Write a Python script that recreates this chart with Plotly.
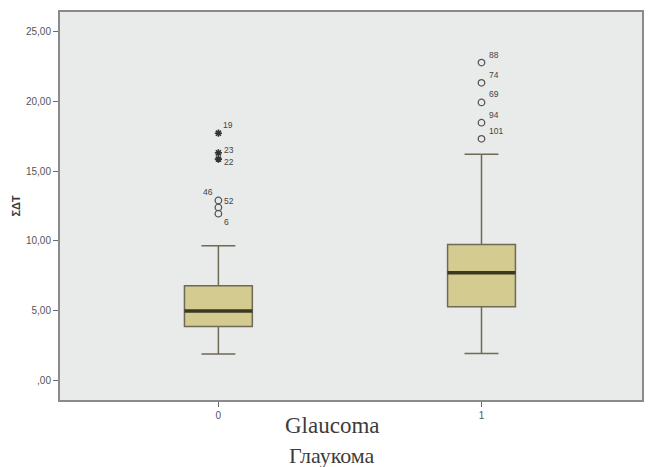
import plotly.graph_objects as go

# Groups and five-number summaries of ΣΔT
groups = [0, 1]
group_labels = ["0", "1"]
q1 = [3.90, 5.31]
median = [5.00, 7.74]
q3 = [6.80, 9.75]
lower_whisker = [1.93, 1.97]
upper_whisker = [9.66, 16.19]

# Outliers (circles) and extremes (asterisks) with case numbers
out_group = [0, 0, 0, 1, 1, 1, 1, 1]
out_value = [12.90, 12.40, 11.95, 22.75, 21.30, 19.90, 18.45, 17.30]
out_case = ["46", "52", "6", "88", "74", "69", "94", "101"]
ext_group = [0, 0, 0]
ext_value = [17.70, 16.30, 15.85]
ext_case = ["19", "23", "22"]

y_ticks = [0, 5, 10, 15, 20, 25]
y_tick_text = [",00", "5,00", "10,00", "15,00", "20,00", "25,00"]

BOX_W = 0.258
FILL = "#d3cb8f"
EDGE = "#6e6a55"
MED = "#3a3820"

fig = go.Figure()
for g, a, m, b, lo, hi in zip(groups, q1, median, q3, lower_whisker, upper_whisker):
    fig.add_trace(go.Box(
        x=[g], q1=[a], median=[m], q3=[b], lowerfence=[lo], upperfence=[hi],
        boxpoints=False, width=BOX_W, whiskerwidth=0.5,
        fillcolor=FILL, line=dict(color=EDGE, width=1.5),
        showlegend=False, hoverinfo="skip",
    ))

fig.add_trace(go.Scatter(
    x=out_group, y=out_value, mode="markers",
    marker=dict(symbol="circle-open", size=6.5, color="#555555", line=dict(width=1.3)),
    showlegend=False, hoverinfo="skip",
))
fig.add_trace(go.Scatter(
    x=ext_group, y=ext_value, mode="markers",
    marker=dict(symbol="asterisk-open", size=6, color="#333333", line=dict(width=1.6)),
    showlegend=False, hoverinfo="skip",
))

# Thick median bars
for g, m in zip(groups, median):
    fig.add_shape(type="line", x0=g - BOX_W / 2, x1=g + BOX_W / 2, y0=m, y1=m,
                  line=dict(color=MED, width=3.5), layer="above")

# Case-number labels beside each point
label_shift = {"46": (-10, 8), "52": (11, 6), "6": (8, -8), "19": (10, 8),
               "23": (11, 3), "22": (11, -3), "101": (14, 8)}
for g, v, c in list(zip(out_group, out_value, out_case)) + list(zip(ext_group, ext_value, ext_case)):
    dx, dy = label_shift.get(c, (12, 8))
    fig.add_annotation(x=g, y=v, text=c, showarrow=False, xshift=dx, yshift=dy,
                       font=dict(family="Liberation Sans", size=8.5, color="#444444"))

# Axis titles
fig.add_annotation(xref="paper", yref="paper", x=-0.09, y=0.5, text="<b>ΣΔT</b>",
                   textangle=-90, showarrow=False,
                   font=dict(family="Liberation Sans", size=11, color="#3a3a3a"))
fig.add_annotation(xref="paper", yref="paper", x=0.468, y=-0.067, yanchor="middle",
                   text="Glaucoma", showarrow=False,
                   font=dict(family="Liberation Serif", size=23, color="#3c3c3c"))
fig.add_annotation(xref="paper", yref="paper", x=0.468, y=-0.144, yanchor="middle",
                   text="Глаукома", showarrow=False,
                   font=dict(family="Liberation Serif", size=22, color="#3c3c3c"))

fig.update_layout(
    width=650, height=467,
    margin=dict(l=60, r=6, t=12, b=67),
    paper_bgcolor="white", plot_bgcolor="#e8ebe9",
    showlegend=False,
)
fig.update_xaxes(
    range=[-0.602, 1.61], tickvals=groups, ticktext=group_labels,
    showgrid=False, zeroline=False, showline=True, mirror=True,
    linecolor="#8a8a8a", linewidth=2, ticks="outside", ticklen=5,
    tickcolor="#6a6a6a", tickfont=dict(family="Liberation Sans", size=10, color="#555555"),
)
fig.update_yaxes(
    range=[-1.36, 26.36], tickvals=y_ticks, ticktext=y_tick_text,
    showgrid=False, zeroline=False, showline=True, mirror=True,
    linecolor="#8a8a8a", linewidth=2, ticks="outside", ticklen=5,
    tickcolor="#6a6a6a", tickfont=dict(family="Liberation Sans", size=10, color="#555555"),
)

fig.write_html("out.html")
